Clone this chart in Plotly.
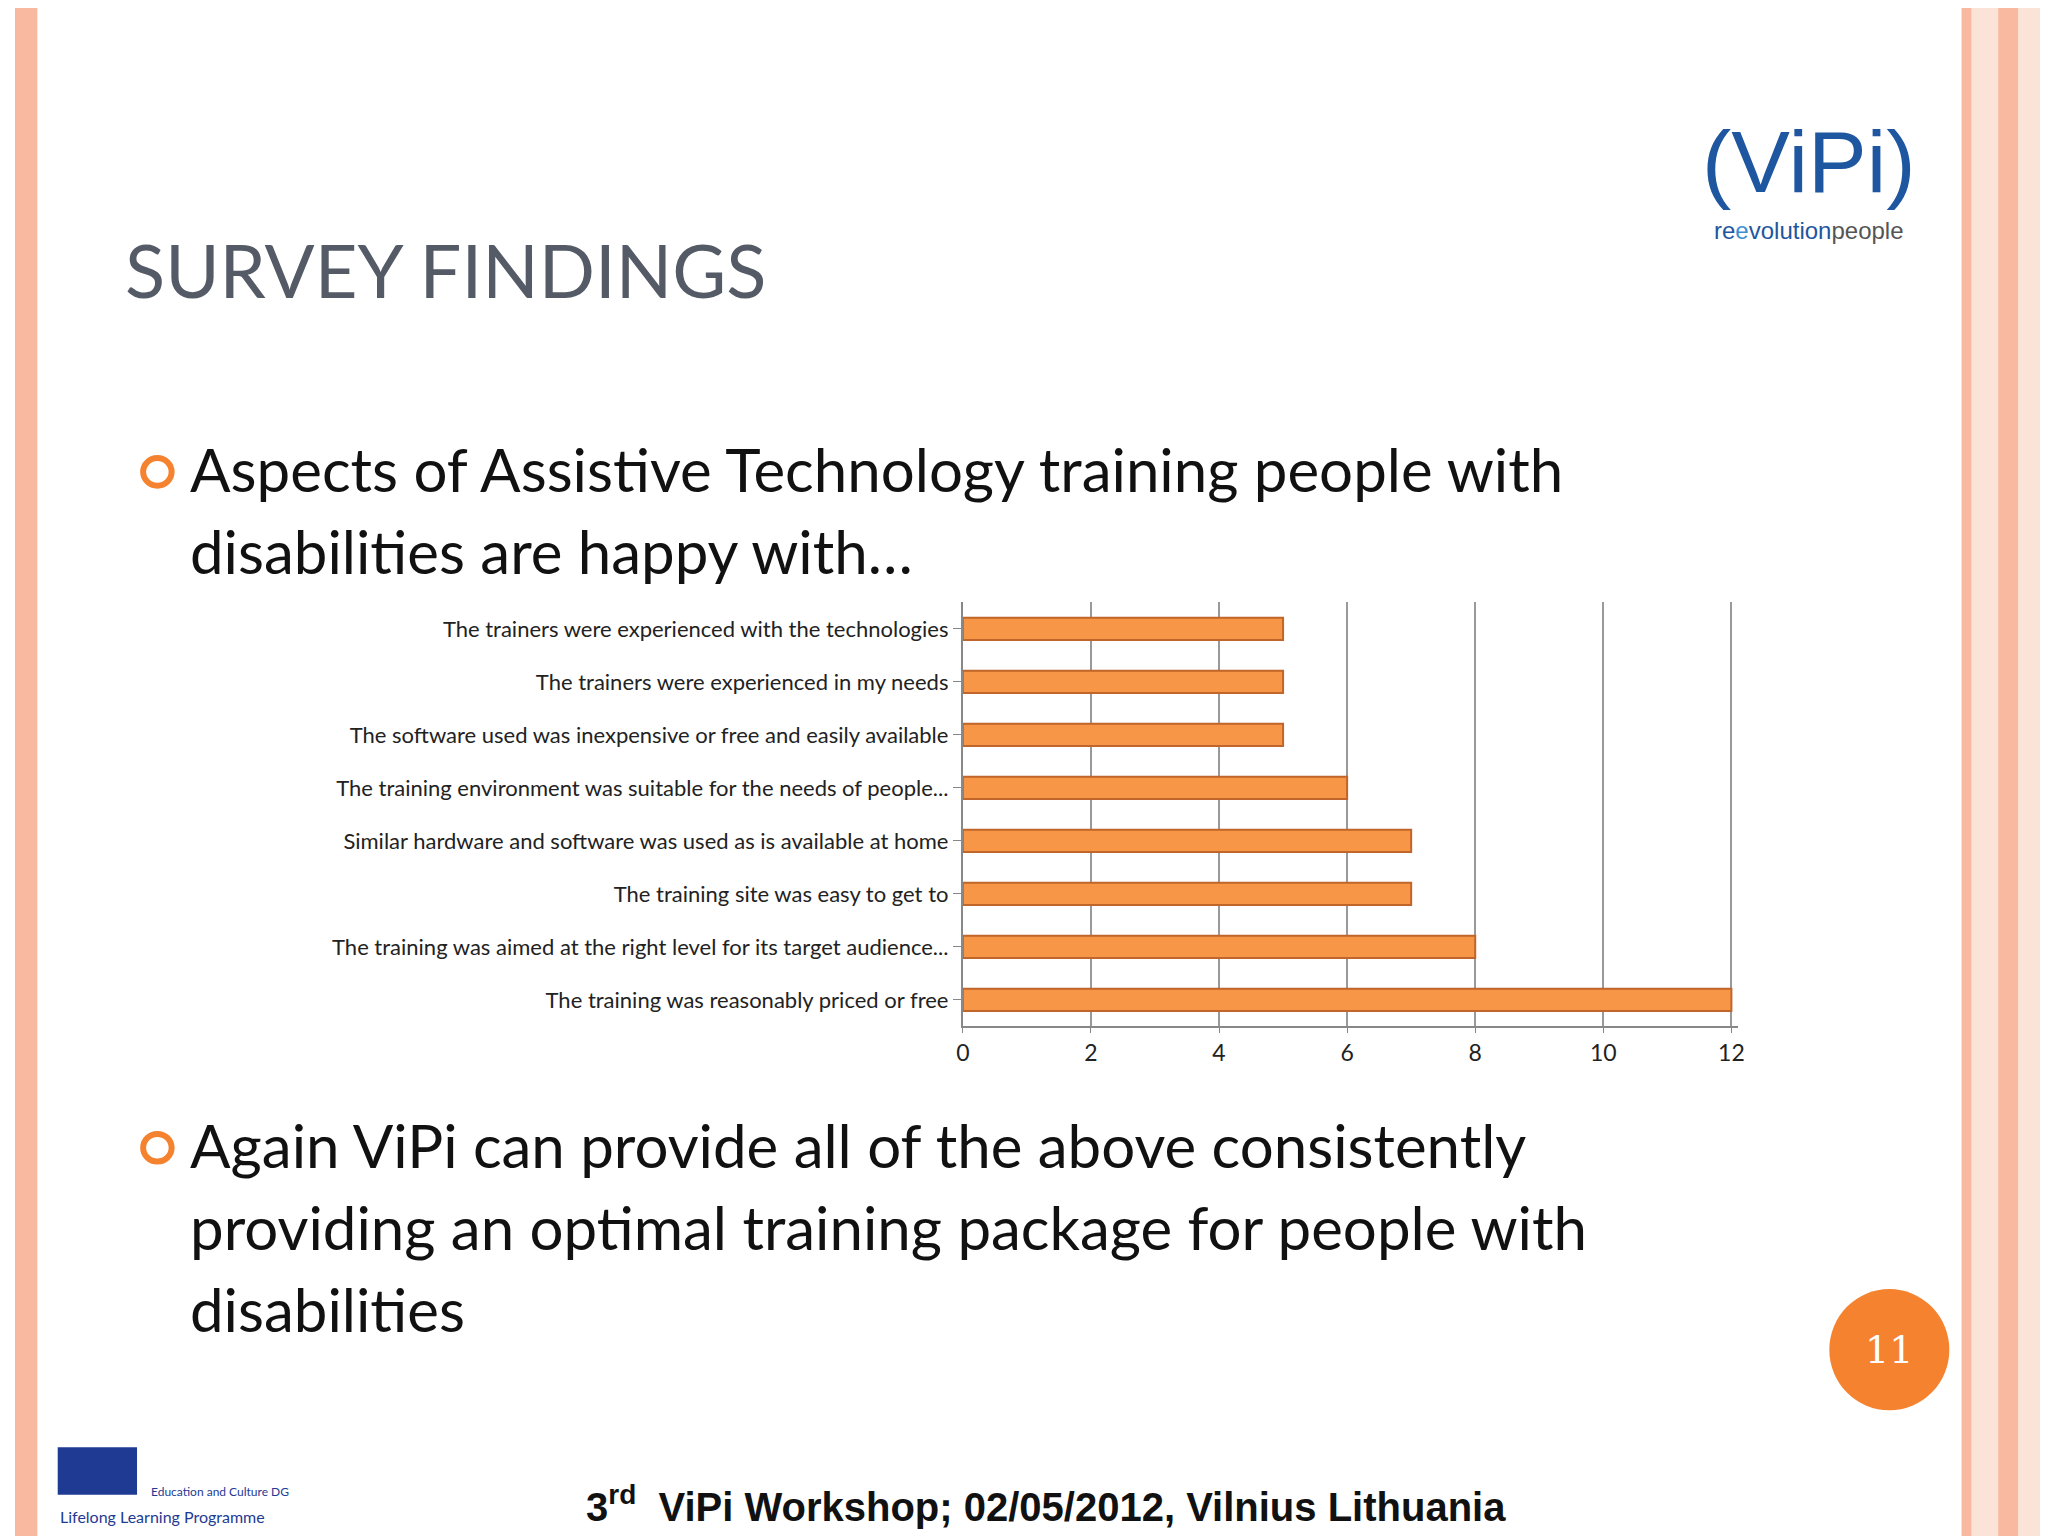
import plotly.graph_objects as go

categories = [
    "The trainers were experienced with the technologies",
    "The trainers were experienced in my needs",
    "The software used was inexpensive or free and easily available",
    "The training environment was suitable for the needs of people...",
    "Similar hardware and software was used as is available at home",
    "The training site was easy to get to",
    "The training was aimed at the right level for its target audience...",
    "The training was reasonably priced or free",
]
values = [5, 5, 5, 6, 7, 7, 8, 12]
tick_vals = [0, 2, 4, 6, 8, 10, 12]

bullet1 = ["Aspects of Assistive Technology training people with",
           "disabilities are happy with…"]
bullet2 = ["Again ViPi can provide all of the above consistently",
           "providing an optimal training package for people with",
           "disabilities"]

ORANGE = "#F79646"
FONT = "Lato"

fig = go.Figure()
fig.add_trace(go.Bar(
    y=categories, x=values, orientation="h",
    marker=dict(color=ORANGE, line=dict(color="#C0662A", width=2)),
    width=0.42, showlegend=False,
))

fig.update_layout(
    width=2048, height=1536,
    paper_bgcolor="white", plot_bgcolor="white",
    margin=dict(l=0, r=0, t=0, b=0),
    font=dict(family=FONT, color="#222"),
    xaxis=dict(domain=[0.466, 0.847], range=[0, 12.1], tickvals=tick_vals,
               showgrid=True, gridcolor="#999", gridwidth=2, zeroline=False,
               showline=True, linecolor="#888", linewidth=2, ticks="outside",
               tickcolor="#888", tickfont=dict(size=23, family=FONT, color="#222")),
    yaxis=dict(domain=[0.337, 0.613], autorange="reversed", showline=True,
               linecolor="#888", linewidth=2, ticks="outside", tickcolor="#888",
               ticklen=8, tickfont=dict(size=22, family=FONT, color="#222")),
    bargap=0.5,
)

shapes = [
    dict(type="rect", xref="paper", yref="paper", x0=0, x1=0.011, y0=0, y1=1,
         fillcolor="#F8B9A0", line_width=0),
    dict(type="rect", xref="paper", yref="paper", x0=0.957, x1=0.962, y0=0, y1=1,
         fillcolor="#F8B9A0", line_width=0),
    dict(type="rect", xref="paper", yref="paper", x0=0.962, x1=0.975, y0=0, y1=1,
         fillcolor="#FCE3D8", line_width=0),
    dict(type="rect", xref="paper", yref="paper", x0=0.975, x1=0.985, y0=0, y1=1,
         fillcolor="#F8B9A0", line_width=0),
    dict(type="rect", xref="paper", yref="paper", x0=0.985, x1=1, y0=0, y1=1,
         fillcolor="#FCE3D8", line_width=0),
    dict(type="circle", xref="paper", yref="paper", x0=0.892, x1=0.951,
         y0=0.087, y1=0.166, fillcolor="#F5822F", line_width=0),
    dict(type="circle", xref="paper", yref="paper", x0=0.063, x1=0.077,
         y0=0.689, y1=0.707, line=dict(color="#F5822F", width=6)),
    dict(type="circle", xref="paper", yref="paper", x0=0.063, x1=0.077,
         y0=0.249, y1=0.267, line=dict(color="#F5822F", width=6)),
    dict(type="rect", xref="paper", yref="paper", x0=0.021, x1=0.06,
         y0=0.032, y1=0.063, fillcolor="#1F3A93", line_width=0),
]
fig.update_layout(shapes=shapes)

ann = [
    dict(x=0.053, y=0.83, text="SURVEY FINDINGS", size=74, color="#555B66", anchor="left"),
    dict(x=0.9215, y=0.126, text="11", size=38, color="white", anchor="center", family="DejaVu Serif"),
    dict(x=0.507, y=0.026, text="<b>3<sup>rd</sup>  ViPi Workshop; 02/05/2012, Vilnius Lithuania</b>",
         size=40, color="#111", anchor="center", family="Liberation Sans"),
    dict(x=0.882, y=0.9, text="(ViPi)", size=88, color="#1E56A0", anchor="center", family="Liberation Sans"),
    dict(x=0.882, y=0.855, text="re<span style='color:#3a8fd0'>e</span>volution<span style='color:#555'>people</span>",
         size=24, color="#1E56A0", anchor="center", family="Liberation Sans"),
    dict(x=0.021, y=0.018, text="Lifelong Learning Programme", size=16, color="#1F3A93", anchor="left"),
    dict(x=0.066, y=0.034, text="Education and Culture DG", size=12, color="#1F3A93", anchor="left"),
]
for i, line in enumerate(bullet1):
    ann.append(dict(x=0.085, y=0.7 - i * 0.0535, text=line, size=60, color="#111", anchor="left"))
for i, line in enumerate(bullet2):
    ann.append(dict(x=0.085, y=0.26 - i * 0.0535, text=line, size=60, color="#111", anchor="left"))

fig.update_layout(annotations=[
    dict(xref="paper", yref="paper", x=a["x"], y=a["y"], text=a["text"], showarrow=False,
         xanchor=a["anchor"], yanchor="middle", align="left",
         font=dict(size=a["size"], color=a["color"], family=a.get("family", FONT)))
    for a in ann
])

fig.write_html("out.html")
